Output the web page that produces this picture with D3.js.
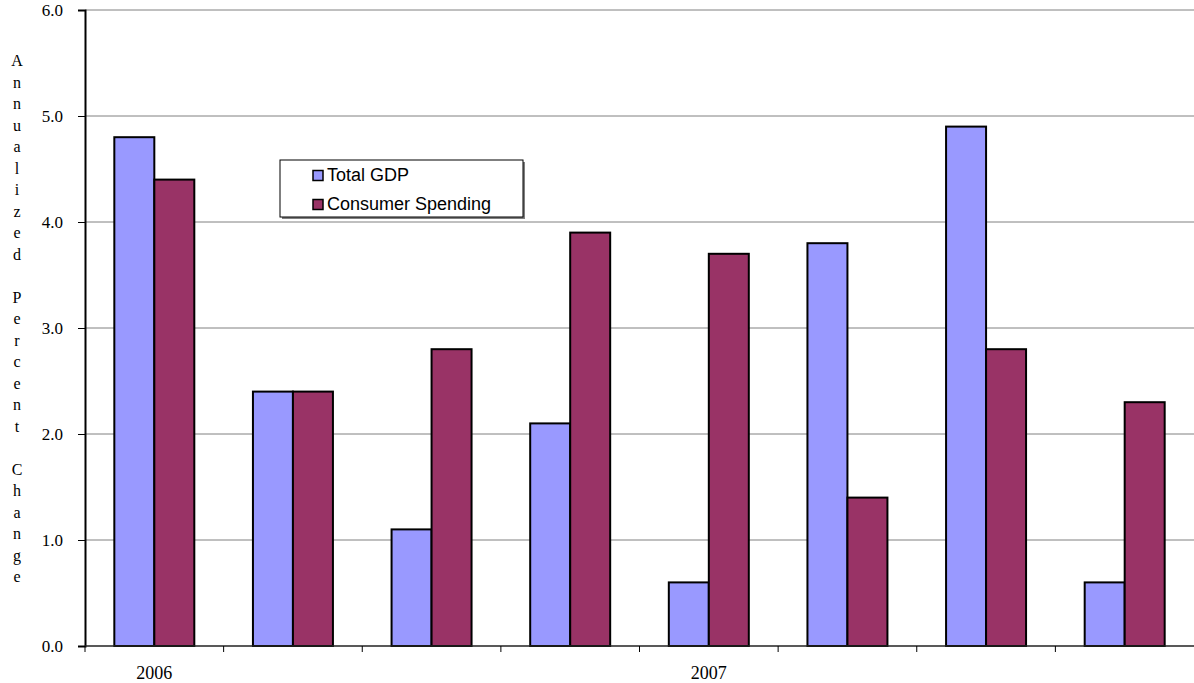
<!DOCTYPE html>
<html>
<head>
<meta charset="utf-8">
<script src="https://cdn.jsdelivr.net/npm/d3@7"></script>
<style>
  body { margin: 0; background: #fff; }
  svg { display: block; }
</style>
</head>
<body>
<svg width="1194" height="683"></svg>
<script>
// Data
var quarters = ["2006", "", "", "", "2007", "", "", ""]
var gdp = [4.8, 2.4, 1.1, 2.1, 0.6, 3.8, 4.9, 0.6]
var consumer = [4.4, 2.4, 2.8, 3.9, 3.7, 1.4, 2.8, 2.3]
var series = ["Total GDP", "Consumer Spending"]
var colors = ["#9999FF", "#993366"]
var yTicks = [0, 1, 2, 3, 4, 5, 6]

var svg = d3.select("svg")
// note: "top" is taken by window.top, so plot edges get own names
var plotLeft = 85, plotRight = 1194, plotTop = 10, plotBottom = 646
var serif = "Liberation Serif, Times New Roman, serif"

var x0 = d3.scaleBand()
  .domain(d3.range(quarters.length))
  .range([plotLeft, plotRight])
  .paddingInner(0.423)
  .paddingOuter(0.2115)

var x1 = d3.scaleBand()
  .domain([0, 1])
  .range([0, x0.bandwidth()])

var y = d3.scaleLinear().domain([0, 6]).range([plotBottom, plotTop])

// gridlines
svg.append("g")
  .selectAll("line")
  .data(yTicks.slice(1))
  .join("line")
  .attr("x1", plotLeft)
  .attr("x2", plotRight)
  .attr("y1", d => y(d))
  .attr("y2", d => y(d))
  .attr("stroke", "#808080")
  .attr("stroke-width", 1)

// bars
var groups = svg.append("g")
  .selectAll("g")
  .data(quarters.map((q, i) => [gdp[i], consumer[i]]))
  .join("g")
  .attr("transform", (d, i) => "translate(" + x0(i) + ",0)")

groups.selectAll("rect")
  .data(d => d)
  .join("rect")
  .attr("x", (d, j) => x1(j))
  .attr("y", d => y(d))
  .attr("width", x1.bandwidth())
  .attr("height", d => y(0) - y(d))
  .attr("fill", (d, j) => colors[j])
  .attr("stroke", "#000")
  .attr("stroke-width", 2)

// y axis
var yAxis = svg.append("g")
  .attr("transform", "translate(" + plotLeft + ",0)")
  .call(d3.axisLeft(y).tickValues(yTicks).tickFormat(d3.format(".1f")).tickSize(7).tickPadding(15))
yAxis.select(".domain").attr("stroke", "#000").attr("stroke-width", 2)
yAxis.selectAll(".tick line").attr("stroke", "#000")
yAxis.selectAll("text")
  .attr("font-family", serif)
  .attr("font-size", 17)
  .attr("fill", "#000")

// x axis baseline with category boundary ticks
svg.append("line")
  .attr("x1", plotLeft).attr("x2", plotRight)
  .attr("y1", plotBottom).attr("y2", plotBottom)
  .attr("stroke", "#222")
  .attr("stroke-width", 1.5)
svg.append("g")
  .selectAll("line")
  .data(d3.range(quarters.length))
  .join("line")
  .attr("x1", i => x0(i) - x0.step() * x0.paddingOuter())
  .attr("x2", i => x0(i) - x0.step() * x0.paddingOuter())
  .attr("y1", plotBottom)
  .attr("y2", plotBottom + 6)
  .attr("stroke", "#000")

svg.append("g")
  .selectAll("text")
  .data(quarters)
  .join("text")
  .attr("x", (d, i) => x0(i) + x0.bandwidth() / 2)
  .attr("y", 679)
  .attr("text-anchor", "middle")
  .attr("font-family", serif)
  .attr("font-size", 18)
  .text(d => d)

// y label, stacked letters
var label = "Annualized Percent Change".split("")
svg.append("g")
  .selectAll("text")
  .data(label)
  .join("text")
  .attr("x", 17)
  .attr("y", (d, i) => 66 + i * 21.5)
  .attr("text-anchor", "middle")
  .attr("font-family", serif)
  .attr("font-size", 16)
  .text(d => d)

// legend
var legend = svg.append("g").attr("transform", "translate(280,160)")
legend.append("rect")
  .attr("x", 2).attr("y", 2)
  .attr("width", 243).attr("height", 57)
  .attr("fill", "#808080")
legend.append("rect")
  .attr("width", 243).attr("height", 57)
  .attr("fill", "#fff")
  .attr("stroke", "#000")
  .attr("stroke-width", 1)
series.forEach(function(s, i) {
  legend.append("rect")
    .attr("x", 33)
    .attr("y", 10.5 + i * 29)
    .attr("width", 10)
    .attr("height", 10)
    .attr("fill", colors[i])
    .attr("stroke", "#000")
    .attr("stroke-width", 1.5)
  legend.append("text")
    .attr("x", 47)
    .attr("y", 21 + i * 29)
    .attr("font-family", "Liberation Sans, Arial, sans-serif")
    .attr("font-size", 18)
    .text(s)
})
</script>
</body>
</html>
